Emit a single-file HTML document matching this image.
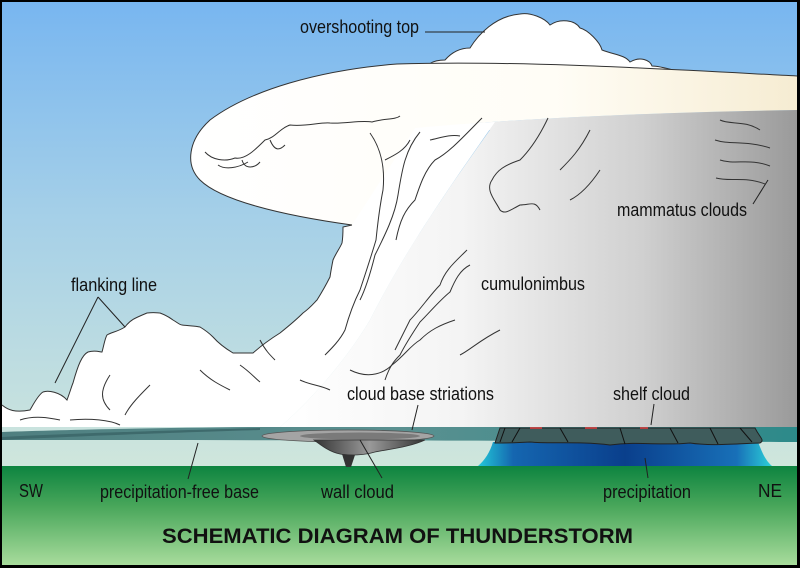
<!DOCTYPE html>
<html><head><meta charset="utf-8"><style>
html,body{margin:0;padding:0;background:#000}
svg{display:block}
text{font-family:"Liberation Sans",sans-serif;font-size:18px;fill:#111}
</style></head><body>
<svg width="800" height="568" viewBox="0 0 800 568" xmlns="http://www.w3.org/2000/svg">
<defs>
<linearGradient id="sky" x1="0" y1="0" x2="0" y2="1">
<stop offset="0" stop-color="#78b6f0"/><stop offset="0.45" stop-color="#a4cfe8"/><stop offset="1" stop-color="#cfe6dc"/>
</linearGradient>
<linearGradient id="ground" x1="0" y1="0" x2="0" y2="1">
<stop offset="0" stop-color="#0d8440"/><stop offset="0.4" stop-color="#48a65a"/><stop offset="1" stop-color="#a8dc9c"/>
</linearGradient>
<linearGradient id="body" x1="280" y1="0" x2="797" y2="0" gradientUnits="userSpaceOnUse">
<stop offset="0" stop-color="#ffffff"/><stop offset="0.35" stop-color="#f4f4f4"/><stop offset="0.7" stop-color="#d0d0d0"/><stop offset="1" stop-color="#9a9a9a"/>
</linearGradient>
<linearGradient id="anv" x1="0" y1="0" x2="1" y2="0">
<stop offset="0" stop-color="#ffffff"/><stop offset="0.6" stop-color="#fffdf6"/><stop offset="1" stop-color="#f6ecd2"/>
</linearGradient>
<linearGradient id="rain" x1="0" y1="0" x2="1" y2="0">
<stop offset="0" stop-color="#22c8d8"/><stop offset="0.12" stop-color="#1566b0"/><stop offset="0.5" stop-color="#0a3f8c"/><stop offset="0.88" stop-color="#1870b8"/><stop offset="1" stop-color="#2cd0d8"/>
</linearGradient>
<linearGradient id="wall" x1="0" y1="0" x2="1" y2="0">
<stop offset="0" stop-color="#333"/><stop offset="0.5" stop-color="#9a9a9a"/><stop offset="1" stop-color="#333"/>
</linearGradient>
<linearGradient id="strip" x1="0" y1="0" x2="1" y2="0">
<stop offset="0" stop-color="#4f7f80"/><stop offset="0.5" stop-color="#5a9090"/><stop offset="1" stop-color="#2d8a8a"/>
</linearGradient>
</defs>
<rect x="0" y="0" width="800" height="568" fill="#000"/>
<rect x="2" y="2" width="795" height="464" fill="url(#sky)"/>
<rect x="2" y="466" width="795" height="99" fill="url(#ground)"/>

<!-- overshooting top -->
<path d="M427,72 C425,65 432,60 445,60 C452,52 460,48 470,48 C478,35 495,16 520,14 C530,12 545,18 550,25 C560,18 575,20 580,28 C588,30 600,42 602,50 C615,55 625,55 630,62 C640,56 650,60 652,66 C665,66 680,74 700,75 L700,78 L427,78 Z" fill="#fff" stroke="#333" stroke-width="1"/>

<!-- main body (gray) -->
<path d="M415,128 C500,120 650,112 797,110 L797,427 L280,427 C300,410 340,370 370,320 C400,260 440,200 490,130 Z" fill="url(#body)"/>

<!-- white tower + flanking line -->
<path d="M340,130 L495,122 C440,200 400,260 370,320 C340,370 300,410 280,427 L2,427 L2,405
C8,410 15,413 30,410 C33,405 38,395 43,392 C48,390 60,392 67,400 C70,392 72,385 73,383 C78,365 82,355 88,352 C95,350 100,352 102,352 C104,345 105,338 107,335
C112,332 117,332 125,327 C130,320 135,318 147,313 C155,312 158,313 160,313 C168,316 170,318 173,320 C178,323 180,325 182,325
C190,326 195,326 200,327 C205,330 210,334 213,337 C220,345 228,350 233,353 C245,353 250,353 253,353 C262,345 272,338 280,333
C290,325 298,318 303,313 C310,308 314,303 317,300 C322,292 327,283 330,277 C331,270 332,265 333,260 C336,253 340,248 342,243 C343,237 343,230 343,227 L352,225 Z" fill="#fff"/>
<path d="M2,405 C8,410 15,413 30,410 C33,405 38,395 43,392 C48,390 60,392 67,400 C70,392 72,385 73,383 C78,365 82,355 88,352 C95,350 100,352 102,352 C104,345 105,338 107,335
C112,332 117,332 125,327 C130,320 135,318 147,313 C155,312 158,313 160,313 C168,316 170,318 173,320 C178,323 180,325 182,325
C190,326 195,326 200,327 C205,330 210,334 213,337 C220,345 228,350 233,353 C245,353 250,353 253,353 C262,345 272,338 280,333
C290,325 298,318 303,313 C310,308 314,303 317,300 C322,292 327,283 330,277 C331,270 332,265 333,260 C336,253 340,248 342,243 C343,237 343,230 343,227 L352,225" fill="none" stroke="#333" stroke-width="1"/>

<!-- anvil -->
<path d="M397,64 C520,60 680,70 797,76 L797,110 C650,112 500,120 415,128 L352,225 C280,215 220,200 200,180 C185,165 188,140 210,120 C250,90 320,70 397,64 Z" fill="url(#anv)"/>
<path d="M797,76 C680,70 520,60 397,64 C320,70 250,90 210,120 C188,140 185,165 200,180 C220,200 280,215 352,225" fill="none" stroke="#333" stroke-width="1"/>

<!-- cloud detail lines -->
<g fill="none" stroke="#333" stroke-width="1">
<path d="M205,152 C212,160 225,162 235,158 C245,160 255,150 265,140 C275,138 280,128 290,125 C305,127 320,122 330,123 C345,124 360,120 372,122 C385,118 395,120 400,116"/>
<path d="M218,165 C225,170 238,168 248,162 M242,160 C245,170 255,168 260,162 M270,140 C275,152 280,150 285,145"/>
<path d="M370,133 C382,150 385,170 383,190 C380,205 378,220 376,240 C370,260 365,275 360,290 C355,300 350,312 345,330 C340,340 332,348 325,355"/>
<path d="M420,132 C405,150 402,170 398,195 C395,215 385,235 375,255 C370,275 365,290 360,300"/>
<path d="M482,118 C465,135 450,152 435,160 C425,170 420,185 415,200 C405,210 400,220 396,240"/>
<path d="M548,118 C540,135 530,150 520,160 C505,165 497,170 492,180 C485,190 495,200 500,210 C505,215 510,210 520,205 C530,205 535,200 540,210"/>
<path d="M467,250 C455,262 445,270 440,285 C430,295 420,310 410,320 C405,330 400,340 395,350"/>
<path d="M470,265 C460,270 455,280 450,292 C440,300 430,312 420,322 C412,334 405,345 400,355 C395,360 390,365 385,380"/>
<path d="M455,320 C440,325 430,330 420,340 C410,346 405,355 392,365 C385,372 370,380 350,370"/>
<path d="M500,330 C480,340 470,350 460,355"/>
<path d="M385,160 C395,155 405,150 410,140 M430,140 C440,138 450,134 460,136"/>
<path d="M590,130 C580,150 570,160 560,170 M600,170 C590,185 580,195 570,200"/>
<path d="M110,375 C100,390 100,400 110,410 M150,385 C140,395 130,405 125,415 M200,370 C210,380 220,385 230,390"/>
<path d="M260,340 C265,350 270,355 275,360 M20,420 C35,415 50,418 60,420 M70,420 C90,418 110,420 120,425"/>
<path d="M240,365 C250,372 255,378 260,382 M300,380 C310,385 320,385 330,390"/>
<path d="M720,120 C730,125 745,120 760,130 M715,140 C730,145 745,140 770,148 M720,160 C735,165 750,158 770,166 M716,178 C730,182 745,176 765,184"/>
</g>

<!-- base strip -->
<path d="M2,432 C60,430 150,428 250,427 L797,427 L797,442 C600,441 300,440 2,440 Z" fill="url(#strip)"/>
<path d="M2,437 C100,432 200,430 260,428 L260,430 C200,432 100,435 2,440 Z" fill="#3e6a6c"/>

<!-- wall cloud -->
<ellipse cx="348" cy="436" rx="86" ry="6" fill="#a4a4a4" stroke="#555" stroke-width="0.8"/>
<ellipse cx="360" cy="436" rx="60" ry="3.5" fill="#7a7a7a"/>
<path d="M314,440 C322,446 330,452 340,454 C350,456 365,455 375,452 C390,449 410,447 425,440 Z" fill="url(#wall)" stroke="#333" stroke-width="0.8"/>
<path d="M342,454 L346,467 L351,467 L355,455 Z" fill="#333"/>

<!-- precipitation -->
<path d="M493,442 L758,442 C762,452 765,460 772,466 L478,466 C485,460 490,452 493,442 Z" fill="url(#rain)"/>
<path d="M500,428 L755,428 C760,438 765,440 760,443 C730,444 710,446 690,443 C660,446 640,441 610,445 C580,441 550,444 530,442 C515,443 505,443 495,443 Z" fill="#3f5c5c" stroke="#222" stroke-width="1"/>
<g stroke="#111" stroke-width="1" fill="none">
<path d="M505,428 L500,442 M520,428 L512,442 M560,428 L568,442 M620,428 L625,444 M670,428 L678,443 M710,428 L718,444 M740,428 L752,442"/>
</g>
<path d="M530,428 h12 M585,428 h12 M640,428 h8" stroke="#d33" stroke-width="1.5"/>

<!-- labels -->
<g stroke="#222" stroke-width="1" fill="none">
<line x1="425" y1="32" x2="485" y2="32"/>
<line x1="753" y1="204" x2="768" y2="180"/>
<line x1="98" y1="297" x2="55" y2="383"/>
<line x1="98" y1="297" x2="125" y2="327"/>
<line x1="418" y1="405" x2="412" y2="430"/>
<line x1="654" y1="404" x2="651" y2="425"/>
<line x1="198" y1="443" x2="188" y2="479"/>
<line x1="360" y1="440" x2="382" y2="478"/>
<line x1="645" y1="458" x2="648" y2="478"/>
</g>
<text x="300" y="33" textLength="119" lengthAdjust="spacingAndGlyphs">overshooting top</text>
<text x="617" y="216" textLength="130" lengthAdjust="spacingAndGlyphs">mammatus clouds</text>
<text x="481" y="290" textLength="104" lengthAdjust="spacingAndGlyphs">cumulonimbus</text>
<text x="71" y="291" textLength="86" lengthAdjust="spacingAndGlyphs">flanking line</text>
<text x="347" y="400" textLength="147" lengthAdjust="spacingAndGlyphs">cloud base striations</text>
<text x="613" y="400" textLength="77" lengthAdjust="spacingAndGlyphs">shelf cloud</text>
<text x="19" y="497" textLength="24" lengthAdjust="spacingAndGlyphs">SW</text>
<text x="100" y="498" textLength="159" lengthAdjust="spacingAndGlyphs">precipitation-free base</text>
<text x="321" y="498" textLength="73" lengthAdjust="spacingAndGlyphs">wall cloud</text>
<text x="603" y="498" textLength="88" lengthAdjust="spacingAndGlyphs">precipitation</text>
<text x="758" y="497" textLength="24" lengthAdjust="spacingAndGlyphs">NE</text>
<text x="162" y="543" textLength="471" lengthAdjust="spacingAndGlyphs" style="font-size:21px;font-weight:bold">SCHEMATIC DIAGRAM OF THUNDERSTORM</text>
</svg>
</body></html>
